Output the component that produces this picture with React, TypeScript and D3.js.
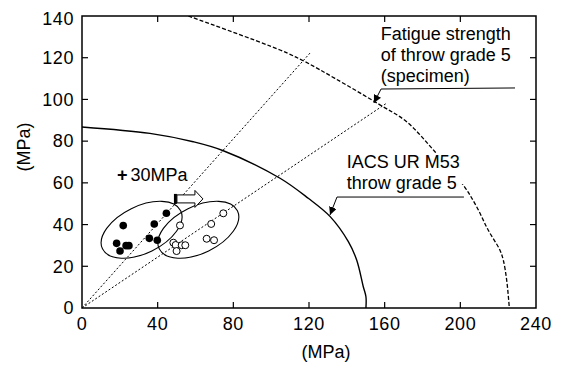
import React from 'react';
import * as d3 from 'd3';

// measured values
const xTicks = [0, 40, 80, 120, 160, 200, 240];
const yTicks = [0, 20, 40, 60, 80, 100, 120, 140];

const filledPts: [number, number][] = [
  [21.8, 39.5], [18.3, 31.0], [20.1, 27.3], [23.3, 29.9], [24.8, 29.9],
  [35.6, 33.4], [38.2, 40.3], [39.8, 32.5], [44.6, 45.4],
];
const openPts: [number, number][] = [
  [51.8, 39.6], [48.3, 31.3], [49.5, 30.2], [50.0, 27.3], [52.7, 30.1],
  [54.6, 30.1], [65.9, 33.2], [68.3, 40.3], [69.8, 32.5], [74.7, 45.4],
];

// IACS UR M53 curve (solid)
const iacsCurve: [number, number][] = [
  [0, 86.8], [35.9, 83.7], [58.8, 79.7], [74.7, 75.4], [104.7, 62.2],
  [119.6, 52.6], [131.2, 43.8], [140.8, 31.8], [145.2, 23.0], [148.7, 10.2],
  [150.1, 5.4], [150.1, 0],
];
// fatigue strength of specimen (dashed)
const fatigueCurve: [number, number][] = [
  [56.2, 140], [104.7, 123.7], [117.9, 118.1], [133.7, 110.1], [157.5, 97.4],
  [171.6, 89.3], [186.6, 74.9], [201.5, 59.0], [208.6, 48.6], [214.7, 37.4],
  [220.9, 27.8], [222.7, 23.0], [224.5, 13.4], [225.9, 0],
];
// dotted lines from origin
const rayEnds: [number, number][] = [[120.5, 122.2], [161.2, 98.3]];
// scatter groups (ellipse centres)
const groupCentres: [number, number][] = [[31.5, 37.5], [61.5, 37.5]];

const W = 562;
const H = 365;
const margin = { top: 16, right: 26, bottom: 57, left: 82 };
const FONT = '"Liberation Sans", Arial, Helvetica, sans-serif';

const App: React.FC = () => {
  const x = d3.scaleLinear().domain([0, 240]).range([margin.left, W - margin.right]);
  const y = d3.scaleLinear().domain([0, 140]).range([H - margin.bottom, margin.top]);
  const line = d3.line<[number, number]>().x(d => x(d[0])).y(d => y(d[1]));
  const smooth = d3.line<[number, number]>().x(d => x(d[0])).y(d => y(d[1]))
    .curve(d3.curveCatmullRom.alpha(0.5));

  const x0 = x(0), x1 = x(240), y0 = y(0), y1 = y(140);

  // leader lines (data coords)
  const fatLeader: [number, number][] = [[228.9, 105.5], [158.1, 105], [154.3, 98.3]];
  const iacsLeader: [number, number][] = [[201.9, 53.2], [134.8, 53.2], [131.1, 44.6]];
  const arrowAt: [number, number] = [48.6, 52.3];

  const tickLen = 6;

  return (
    <div style={{ position: 'absolute', left: 0, top: 0 }}>
      <svg width={W} height={H} style={{ display: 'block', background: '#fff' }} fontFamily={FONT}>
        <defs>
          <marker id="ah" viewBox="0 0 10 10" refX="10" refY="5" markerWidth="8" markerHeight="8"
            markerUnits="userSpaceOnUse" orient="auto">
            <path d="M0,0 L10,5 L0,10 Z" fill="#000" />
          </marker>
          <clipPath id="plot">
            <rect x={x0} y={y1} width={x1 - x0} height={y0 - y1} />
          </clipPath>
        </defs>

        {/* dotted rays */}
        {rayEnds.map((e, i) => (
          <path key={i} d={line([[0, 0], e]) || ''} fill="none" stroke="#000"
            strokeWidth={1} strokeDasharray="2,2" />
        ))}

        {/* curves */}
        <path d={smooth(iacsCurve) || ''} fill="none" stroke="#000" strokeWidth={1.4} />
        <path d={smooth(fatigueCurve) || ''} fill="none" stroke="#000" strokeWidth={1.3}
          strokeDasharray="4,2" clipPath="url(#plot)" />

        {/* group ellipses */}
        {groupCentres.map((c, i) => (
          <ellipse key={i} cx={0} cy={0} rx={43.5} ry={23.5} fill="none" stroke="#000"
            strokeWidth={1.1} transform={`translate(${x(c[0])},${y(c[1])}) rotate(-26)`} />
        ))}

        {/* points */}
        {filledPts.map((p, i) => (
          <circle key={'f' + i} cx={x(p[0])} cy={y(p[1])} r={3.8} fill="#000" />
        ))}
        {openPts.map((p, i) => (
          <circle key={'o' + i} cx={x(p[0])} cy={y(p[1])} r={3.5} fill="#fff" stroke="#000" strokeWidth={1} />
        ))}

        {/* block arrow */}
        <g transform={`translate(${x(arrowAt[0])},${y(arrowAt[1])})`}>
          <rect x={0} y={-5} width={3} height={10} fill="#000" />
          <path d="M3,-4 L21,-4 L21,-8.5 L29,0 L21,8.5 L21,4 L3,4 Z" fill="#fff" stroke="#000" strokeWidth={1} />
        </g>
        <text x={x(18.5)} y={y(60.8)} fontSize={18}>
          <tspan fontWeight="bold">+</tspan>
          <tspan dx={3}>30MPa</tspan>
        </text>

        {/* leaders */}
        <path d={line(fatLeader) || ''} fill="none" stroke="#000" strokeWidth={1} markerEnd="url(#ah)" />
        <path d={line(iacsLeader) || ''} fill="none" stroke="#000" strokeWidth={1} markerEnd="url(#ah)" />

        <text x={x(157.9)} fontSize={18} fill="#000">
          <tspan x={x(157.9)} y={40}>Fatigue strength</tspan>
          <tspan x={x(157.9)} y={61}>of throw grade 5</tspan>
          <tspan x={x(157.9)} y={82}>(specimen)</tspan>
        </text>
        <rect x={x(139.2)} y={153} width={122} height={31} fill="#fff" />
        <text fontSize={18} fill="#000">
          <tspan x={x(139.9)} y={168}>IACS UR M53</tspan>
          <tspan x={x(139.9)} y={189}>throw grade 5</tspan>
        </text>

        {/* frame */}
        <rect x={x0} y={y1} width={x1 - x0} height={y0 - y1} fill="none" stroke="#000" strokeWidth={1.5} />

        {/* ticks */}
        {xTicks.slice(1, -1).map(t => (
          <g key={'xt' + t} stroke="#000" strokeWidth={1.2}>
            <line x1={x(t)} x2={x(t)} y1={y0} y2={y0 - tickLen} />
            <line x1={x(t)} x2={x(t)} y1={y1} y2={y1 + tickLen} />
          </g>
        ))}
        {yTicks.slice(1, -1).map(t => (
          <g key={'yt' + t} stroke="#000" strokeWidth={1.2}>
            <line x1={x0} x2={x0 + tickLen} y1={y(t)} y2={y(t)} />
            <line x1={x1} x2={x1 - tickLen} y1={y(t)} y2={y(t)} />
          </g>
        ))}

        {/* tick labels */}
        {xTicks.map(t => (
          <text key={'xl' + t} x={x(t)} y={330} textAnchor="middle" fontSize={18} letterSpacing={0.6}>{t}</text>
        ))}
        {yTicks.map(t => (
          <text key={'yl' + t} x={x0 - 8} y={y(t) + (t === 140 ? 3 : 0)} dy="0.35em" textAnchor="end"
            fontSize={18} letterSpacing={0.6}>{t}</text>
        ))}

        {/* axis titles */}
        <text x={326} y={358} textAnchor="middle" fontSize={18}>(MPa)</text>
        <text transform={`translate(30,147) rotate(-90)`} textAnchor="middle" fontSize={18}>(MPa)</text>
      </svg>
    </div>
  );
};

export default App;
